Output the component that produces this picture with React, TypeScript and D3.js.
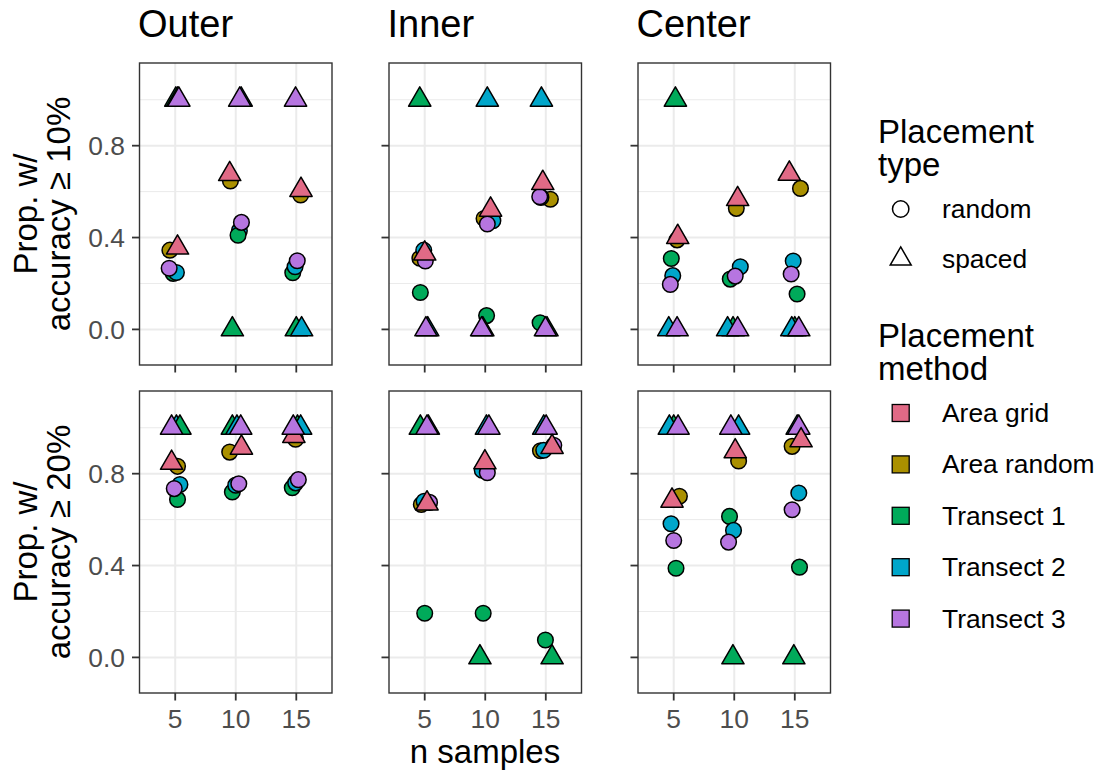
import React from "react";
import * as d3 from "d3";

// facets
const regions = ["Outer", "Inner", "Center"];
const thresholds = ["10%", "20%"];

// legend entries
const types = ["random", "spaced"];
const methods = ["Area grid", "Area random", "Transect 1", "Transect 2", "Transect 3"];
const methodColors = ["#E16A86", "#AA9000", "#00AA5A", "#00A6CA", "#B675E0"];

const xTicks = [5, 10, 15];
const yTicks = [0, 0.4, 0.8];
const yMinor = [0.2, 0.6, 1.0];

// [method index, type ("r" random / "s" spaced), n samples (jittered), proportion]
const outer10 = [
  [2, "s", 5.05, 1.0], [3, "s", 5.2, 1.0], [4, "s", 5.3, 1.0],
  [2, "r", 4.83, 0.244], [3, "r", 5.1, 0.248], [1, "r", 4.56, 0.345], [0, "s", 5.19, 0.356], [4, "r", 4.5, 0.266],
  [3, "s", 10.45, 1.0], [4, "s", 10.33, 1.0], [1, "r", 9.56, 0.646], [0, "s", 9.5, 0.676],
  [3, "r", 10.3, 0.43], [2, "r", 10.19, 0.41], [4, "r", 10.47, 0.466], [2, "s", 9.72, 0],
  [1, "r", 15.36, 0.585], [0, "s", 15.39, 0.607], [2, "r", 14.71, 0.247], [3, "r", 14.9, 0.273],
  [4, "r", 15.08, 0.299], [2, "s", 15.0, 0], [3, "s", 15.44, 0], [4, "s", 14.94, 1.0],
];
const inner10 = [
  [2, "s", 4.59, 1.0], [1, "r", 4.6, 0.31], [3, "r", 4.92, 0.345], [4, "r", 5.05, 0.298],
  [0, "s", 5.0, 0.33], [2, "r", 4.64, 0.161], [3, "s", 5.25, 0], [4, "s", 5.1, 0],
  [3, "s", 10.17, 1.0], [1, "r", 9.9, 0.483], [3, "r", 10.63, 0.473], [4, "r", 10.17, 0.459],
  [0, "s", 10.44, 0.521], [2, "r", 10.11, 0.06], [2, "s", 9.8, 0], [4, "s", 9.7, 0],
  [3, "s", 14.64, 1.0], [1, "r", 15.38, 0.567], [3, "r", 14.6, 0.575], [4, "r", 14.5, 0.578],
  [0, "s", 14.75, 0.637], [2, "r", 14.53, 0.029], [2, "s", 15.1, 0], [4, "s", 14.97, 0],
];
const center10 = [
  [2, "s", 5.14, 1.0], [1, "r", 5.28, 0.39], [0, "s", 5.33, 0.402], [2, "r", 4.8, 0.309],
  [3, "r", 4.92, 0.234], [4, "r", 4.72, 0.196], [3, "s", 4.59, 0], [4, "s", 5.28, 0],
  [1, "r", 10.17, 0.527], [0, "s", 10.28, 0.567], [2, "r", 9.67, 0.219], [3, "r", 10.5, 0.273],
  [4, "r", 10.08, 0.232], [2, "s", 9.9, 0], [3, "s", 9.45, 0], [4, "s", 10.28, 0],
  [0, "s", 14.55, 0.678], [1, "r", 15.47, 0.614], [2, "r", 15.19, 0.154], [3, "r", 14.87, 0.298],
  [4, "r", 14.7, 0.241], [2, "s", 15.0, 0], [3, "s", 14.75, 0], [4, "s", 15.33, 0],
];
const outer20 = [
  [3, "s", 5.1, 1.0], [2, "s", 5.39, 1.0], [4, "s", 4.7, 1.0], [1, "r", 5.19, 0.832],
  [0, "s", 4.7, 0.847], [2, "r", 5.19, 0.688], [3, "r", 5.39, 0.753], [4, "r", 4.92, 0.735],
  [2, "s", 9.72, 1.0], [3, "s", 10.1, 1.0], [4, "s", 10.41, 1.0], [1, "r", 9.5, 0.894],
  [0, "s", 10.47, 0.913], [2, "r", 9.72, 0.72], [3, "r", 10.0, 0.75], [4, "r", 10.25, 0.756],
  [2, "s", 15.1, 1.0], [3, "s", 15.36, 1.0], [1, "r", 14.94, 0.95], [0, "s", 14.8, 0.964],
  [4, "s", 14.75, 1.0], [2, "r", 14.67, 0.739], [3, "r", 14.95, 0.76], [4, "r", 15.17, 0.774],
];
const inner20 = [
  [2, "s", 4.64, 1.0], [3, "s", 5.3, 1.0], [4, "s", 5.19, 1.0], [1, "r", 4.72, 0.666],
  [3, "r", 4.95, 0.68], [4, "r", 5.4, 0.675], [0, "s", 5.19, 0.67], [2, "r", 5.0, 0.192],
  [2, "s", 9.56, 0], [3, "s", 10.1, 1.0], [4, "s", 10.3, 1.0], [1, "r", 9.85, 0.82],
  [3, "r", 9.75, 0.815], [4, "r", 10.17, 0.804], [0, "s", 9.97, 0.849], [2, "r", 9.83, 0.192],
  [3, "s", 14.83, 1.0], [4, "s", 15.03, 1.0], [1, "r", 14.56, 0.9], [3, "r", 14.83, 0.902],
  [4, "r", 15.66, 0.924], [0, "s", 15.52, 0.916], [2, "r", 14.97, 0.076], [2, "s", 15.52, 0],
];
const center20 = [
  [2, "s", 5.0, 1.0], [3, "s", 4.64, 1.0], [4, "s", 5.36, 1.0], [1, "r", 5.47, 0.702],
  [0, "s", 4.86, 0.682], [3, "r", 4.78, 0.582], [4, "r", 5.0, 0.509], [2, "r", 5.19, 0.388],
  [2, "s", 9.89, 0], [3, "s", 10.36, 1.0], [4, "s", 9.72, 1.0], [1, "r", 10.36, 0.855],
  [0, "s", 10.08, 0.897], [2, "r", 9.61, 0.614], [3, "r", 9.94, 0.553], [4, "r", 9.53, 0.502],
  [3, "s", 15.2, 1.0], [4, "s", 15.33, 1.0], [1, "r", 14.78, 0.919], [0, "s", 15.52, 0.945],
  [3, "r", 15.33, 0.716], [4, "r", 14.78, 0.643], [2, "r", 15.39, 0.393], [2, "s", 14.92, 0],
];

const panelData = [
  [outer10, inner10, center10],
  [outer20, inner20, center20],
];

const font = "'Liberation Sans', Arial, sans-serif";
const W = 1098;
const H = 771;
const panelLefts = [139.5, 389, 638];
const panelTops = [63, 391];
const panelW = 192.5;
const panelH = 302;
const tickLen = 7.5;

const x = d3.scaleLinear().domain([2.05, 17.95]).range([0, panelW]);
const y = d3.scaleLinear().domain([-0.155, 1.16]).range([panelH, 0]);
const tri = d3.symbol(d3.symbolTriangle, 215)();
const triLegend = d3.symbol(d3.symbolTriangle, 190)();

function Panel({ data, left, top, showY, showX }) {
  return (
    <g transform={`translate(${left},${top})`}>
      <rect width={panelW} height={panelH} fill="white" />
      {yMinor.map((t) => (
        <line key={"m" + t} x1={0} x2={panelW} y1={y(t)} y2={y(t)} stroke="#EBEBEB" strokeWidth={1} />
      ))}
      {yTicks.map((t) => (
        <line key={"y" + t} x1={0} x2={panelW} y1={y(t)} y2={y(t)} stroke="#EBEBEB" strokeWidth={2} />
      ))}
      {xTicks.map((t) => (
        <line key={"x" + t} x1={x(t)} x2={x(t)} y1={0} y2={panelH} stroke="#EBEBEB" strokeWidth={2} />
      ))}
      {data.map((d, i) =>
        d[1] === "r" ? (
          <circle key={i} cx={x(d[2])} cy={y(d[3])} r={7.8} fill={methodColors[d[0]]} stroke="black" strokeWidth={1.5} />
        ) : (
          <path key={i} d={tri} transform={`translate(${x(d[2])},${y(d[3])})`} fill={methodColors[d[0]]} stroke="black" strokeWidth={1.5} strokeLinejoin="round" />
        )
      )}
      <rect width={panelW} height={panelH} fill="none" stroke="#333333" strokeWidth={1.4} />
      {yTicks.map((t) => (
        <g key={"yt" + t}>
          <line x1={-tickLen} x2={0} y1={y(t)} y2={y(t)} stroke="#333333" strokeWidth={1.8} />
          {showY && (
            <text x={-tickLen - 7} y={y(t)} dy="0.36em" textAnchor="end" fontSize={26.4} fill="#4D4D4D">
              {d3.format(".1f")(t)}
            </text>
          )}
        </g>
      ))}
      {xTicks.map((t) => (
        <g key={"xt" + t}>
          <line x1={x(t)} x2={x(t)} y1={panelH} y2={panelH + tickLen} stroke="#333333" strokeWidth={1.8} />
          {showX && (
            <text x={x(t)} y={panelH + 35} textAnchor="middle" fontSize={26.4} fill="#4D4D4D">
              {t}
            </text>
          )}
        </g>
      ))}
    </g>
  );
}

export default function App() {
  const legX = 878;
  const keyX = 900.7;
  const labX = 942;
  return (
    <svg width={W} height={H} style={{ position: "absolute", left: 0, top: 0, fontFamily: font }}>
      <rect width={W} height={H} fill="white" />
      {regions.map((r, c) => (
        <text key={r} x={panelLefts[c] - 1.5} y={37} fontSize={38} fill="black">
          {r}
        </text>
      ))}
      {panelData.map((row, ri) =>
        row.map((data, ci) => (
          <Panel key={ri + "-" + ci} data={data} left={panelLefts[ci]} top={panelTops[ri]} showY={ci === 0} showX={ri === 1} />
        ))
      )}
      {thresholds.map((t, ri) => {
        const cy = panelTops[ri] + panelH / 2;
        return (
          <g key={t} transform={`translate(0,${cy}) rotate(-90)`} fontSize={33} fill="black">
            <text x={0} y={36.7} textAnchor="middle">Prop. w/</text>
            <text x={0} y={70} textAnchor="middle">accuracy ≥ {t}</text>
          </g>
        );
      })}
      <text x={(panelLefts[0] + panelLefts[2] + panelW) / 2} y={763} textAnchor="middle" fontSize={33} fill="black">
        n samples
      </text>

      {/* legend: placement type */}
      <text x={legX} y={143} fontSize={33}>Placement</text>
      <text x={legX} y={176} fontSize={33}>type</text>
      {types.map((t, i) => {
        const cy = 209 + i * 50;
        return (
          <g key={t}>
            {i === 0 ? (
              <circle cx={keyX} cy={cy} r={8.2} fill="none" stroke="black" strokeWidth={1.5} />
            ) : (
              <path d={triLegend} transform={`translate(${keyX},${cy})`} fill="none" stroke="black" strokeWidth={1.5} />
            )}
            <text x={labX} y={cy + 9} fontSize={26.4}>{t}</text>
          </g>
        );
      })}

      {/* legend: placement method */}
      <text x={legX} y={347} fontSize={33}>Placement</text>
      <text x={legX} y={380} fontSize={33}>method</text>
      {methods.map((m, i) => {
        const cy = 413 + i * 51.4;
        return (
          <g key={m}>
            <rect x={keyX - 8.5} y={cy - 8.5} width={17} height={17} fill={methodColors[i]} stroke="black" strokeWidth={1.3} />
            <text x={labX} y={cy + 9} fontSize={26.4}>{m}</text>
          </g>
        );
      })}
    </svg>
  );
}
